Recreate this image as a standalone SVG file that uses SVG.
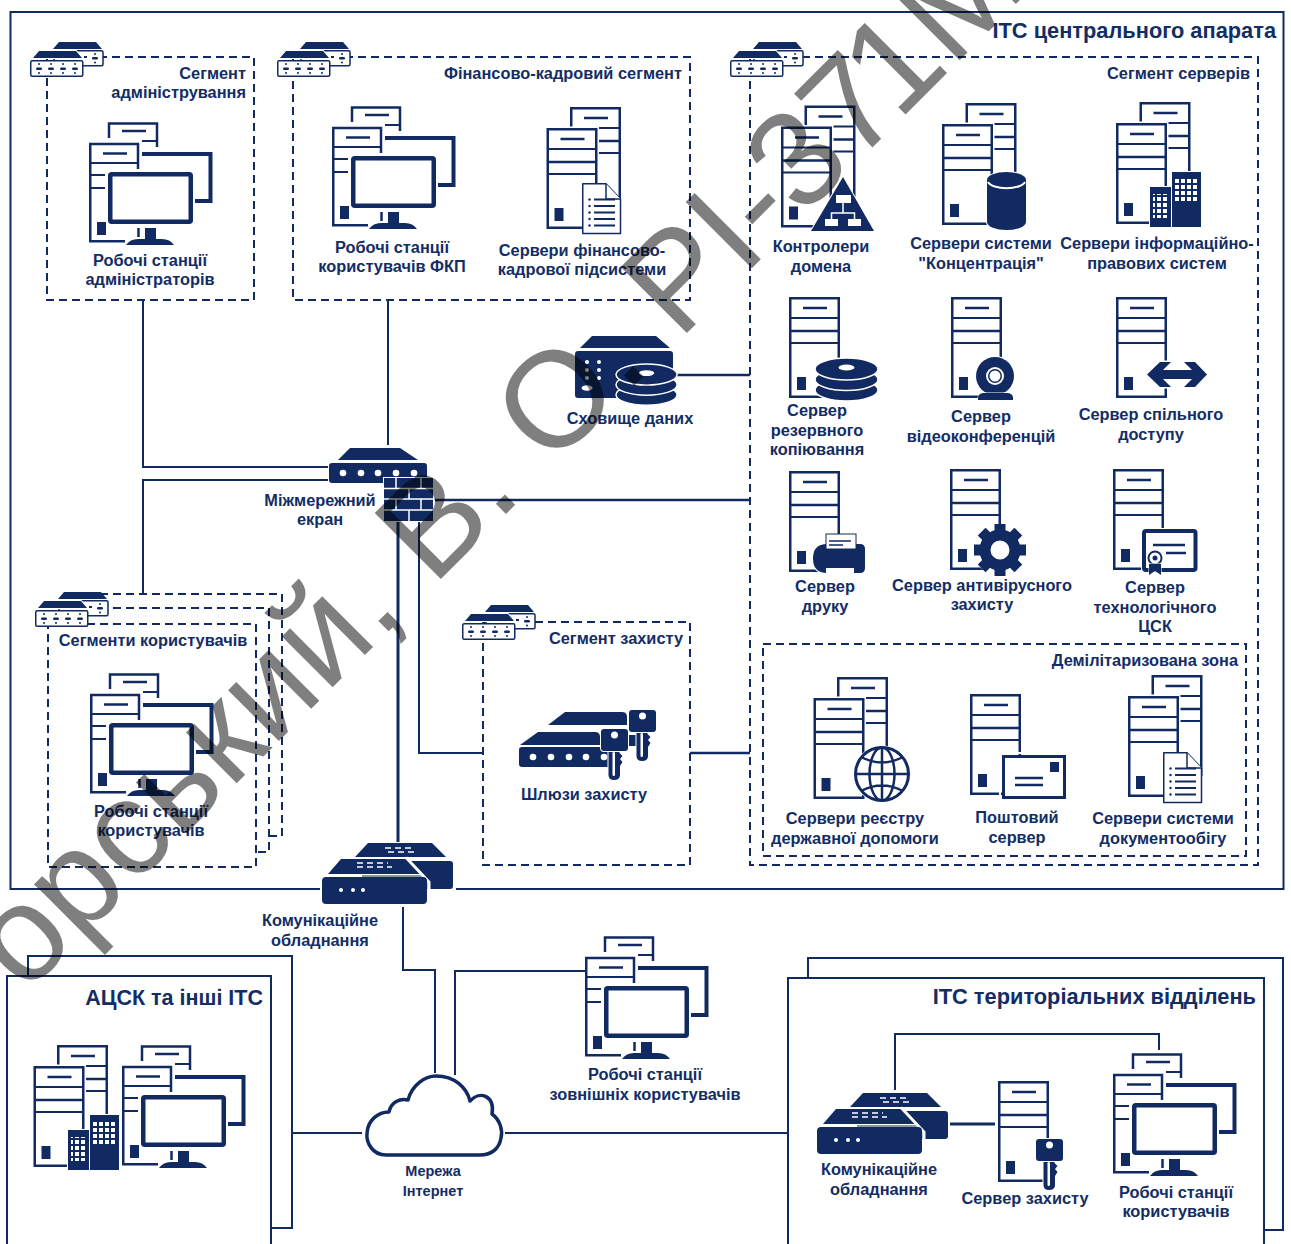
<svg xmlns="http://www.w3.org/2000/svg" xmlns:xlink="http://www.w3.org/1999/xlink" width="1291" height="1244" viewBox="0 0 1291 1244">
<style>
text{font-family:"Liberation Sans",Arial,sans-serif;font-weight:700;font-size:16.35px;fill:#132d65}
.c{text-anchor:middle}.r{text-anchor:end}
.n{fill:#112a61}.w{fill:#fff}
.s{fill:none;stroke:#112a61;stroke-width:2.5}
.ws{fill:none;stroke:#fff;stroke-width:1.5}
.l{fill:none;stroke:#112a61;stroke-width:2}
.d{fill:none;stroke:#112a61;stroke-width:2;stroke-dasharray:8 5}
.h{stroke:#fff;stroke-width:2;paint-order:stroke}
.wm{font-family:"Liberation Sans",Arial,sans-serif;font-weight:400;font-size:136px;fill:#000;fill-opacity:.5}
</style>
<defs>
<pattern id="win" width="6" height="6" patternUnits="userSpaceOnUse"><rect width="6" height="6" fill="#112a61"/><rect x="1" y="1" width="4" height="4" fill="#fff"/></pattern>
<g id="tw">
<rect x="-1.5" y="-1.5" width="54" height="104" fill="#fff"/>
<rect x="1.25" y="1.25" width="48.5" height="98.5" fill="#fff" class="s" style="fill:#fff"/>
<path class="s" d="M14 11H38M1 34H50"/><path class="l" d="M1 21H50M1 46H50"/>
<rect class="n" x="8" y="80" width="9" height="13"/>
</g>
<g id="st"><use href="#tw" x="23.500" y="-21"/><use href="#tw"/></g>
<g id="wk">
<path class="s" d="M19 16V1.5H67V25"/><path class="l" d="M52 19H66"/><path class="s" d="M32 9H56"/>
<path class="s" d="M35 119.25H.25V22H48V47"/><path class="s" d="M13 31.5H37"/><path class="l" d="M0 41H48M0 53H15M0 66H15"/>
<rect class="n" x="7" y="100" width="9" height="13"/><path class="s" d="M48.5 106V115"/>
<path fill="none" stroke="#112a61" stroke-width="4" d="M52 32H120.500V79H105"/>
<rect x="20.25" y="52.25" width="80.5" height="47.5" rx="1.5" fill="#fff" stroke="#112a61" stroke-width="4.5"/>
<rect class="n" x="55" y="106" width="11" height="12"/><path class="n" d="M36 123Q40 117 48 117H72Q80 117 84 123Z"/>
</g>
<g id="sw">
<path class="n" d="M23 7L29 0H66L72 7Z"/>
<rect x="24" y="8.75" width="49" height="15" rx="1.5" fill="#fff" stroke="#112a61" stroke-width="1.5"/>
<g class="n"><rect x="62" y="15" width="6" height="2.4" rx="1.2"/><circle cx="65" cy="12" r="1"/><circle cx="65" cy="20.500" r="1"/><rect x="54" y="14" width="3" height="2"/></g>
<path class="n h" d="M3 16L9 9H46L52 16Z"/>
<rect x=".75" y="18.75" width="52" height="15.500" rx="1.5" fill="#fff" stroke="#112a61" stroke-width="1.5"/>
<g class="n"><rect x="6" y="25.500" width="6" height="2.400" rx="1.200"/><rect x="18" y="25.500" width="6" height="2.400" rx="1.200"/><rect x="30" y="25.500" width="6" height="2.400" rx="1.200"/><rect x="42" y="25.500" width="6" height="2.400" rx="1.200"/>
<circle cx="9" cy="22" r="1"/><circle cx="21" cy="22" r="1"/><circle cx="33" cy="22" r="1"/><circle cx="45" cy="22" r="1"/><circle cx="9" cy="31" r="1"/><circle cx="21" cy="31" r="1"/><circle cx="33" cy="31" r="1"/><circle cx="45" cy="31" r="1"/></g>
</g>
<g id="cm">
<path class="n" d="M33 14L46 0H110L124 14Z"/><rect class="n" x="40" y="18" width="91" height="28" rx="3"/>
<path fill="none" stroke="#fff" stroke-width="1.500" stroke-dasharray="6 4" d="M63 5H93M66 9H96"/>
<path class="n" d="M6 31L19 16H84L99 31Z" stroke="#fff" stroke-width="3" paint-order="stroke"/>
<path fill="none" stroke="#fff" stroke-width="3" d="M84 14.500L107 39V50"/>
<rect class="n" x="0" y="34" width="105" height="27" rx="4" stroke="#fff" stroke-width="1" paint-order="stroke"/>
<path fill="none" stroke="#fff" stroke-width="1.500" stroke-dasharray="6 4" d="M35 20H66M35 24H70"/>
<g class="w"><circle cx="19" cy="47" r="2"/><circle cx="31" cy="47" r="2"/><circle cx="41" cy="47" r="2"/></g>
</g>
<g id="key">
<path class="n" stroke="#fff" stroke-width="2" paint-order="stroke" d="M7.500 20H18.500V24L21.500 27L19 30L21.500 33L19 37V46Q19 51 13 51Q7.500 51 7.500 46Z"/>
<rect x="11.500" y="23" width="2.500" height="24" rx="1.200" fill="#fff"/>
<rect class="n" x="0" y="0" width="27" height="22" rx="3" stroke="#fff" stroke-width="2" paint-order="stroke"/>
<circle cx="13.500" cy="6" r="3.500" fill="#fff"/>
</g>
<g id="doc">
<path d="M.75 .75H24L38.500 16V50.500H.75Z" fill="#fff" stroke="#112a61" stroke-width="1.500" stroke-linejoin="round"/><path d="M24 .75V16H38.500" fill="#fff" stroke="#112a61" stroke-width="1.500"/>
<path class="l" d="M12 16.500H33M12 23H33M12 29.500H33M12 36H33M12 42.500H33"/>
<g class="n"><circle cx="7.500" cy="16.500" r="1.200"/><circle cx="7.500" cy="23" r="1.200"/><circle cx="7.500" cy="29.500" r="1.200"/><circle cx="7.500" cy="36" r="1.200"/><circle cx="7.500" cy="42.500" r="1.200"/></g>
</g>
<g id="dk">
<g class="n" stroke="#fff" stroke-width="1.500"><ellipse cx="31.500" cy="32" rx="31.500" ry="11"/><ellipse cx="31.500" cy="21.500" rx="31.500" ry="11"/><ellipse cx="31.500" cy="11" rx="31.500" ry="11"/></g>
<ellipse cx="31.500" cy="9.500" rx="8" ry="3" fill="#fff"/>
</g>
<g id="bd">
<rect class="n h" x="0" y="15" width="21" height="40"/><rect class="n h" x="22" y="0" width="29" height="55"/>
<rect x="3" y="22" width="15" height="24" fill="url(#win)"/><rect x="25" y="5" width="24" height="24" fill="url(#win)"/>
</g>
</defs>

<g id="frames" fill="none" stroke="#112a61" stroke-width="2">
<rect id="central-frame" x="10.500" y="12" width="1273" height="877"/>
<path d="M28 976V956H292V1228H271"/><path d="M7 1244V976H271V1244"/>
<path d="M808 978V958H1283V1230H1264"/><path d="M788 1244V978H1264V1244"/>
</g>

<g id="connectors">
<path class="l" d="M143 300V467H328M143 594V480H328M388 300V445"/>
<path class="l" style="stroke-width:3" d="M398 521V842"/>
<path class="l" d="M419 521V753H483"/>
<path class="l" style="stroke-width:2.500" d="M435 500H750M677 375H750M690 753H750"/>
<path class="l" d="M403 907V970H435V1073M455 1075V971H585M293 1133H362M505 1133H788"/>
<path class="l" d="M895 1090V1034H1159V1050"/><path class="l" style="stroke-width:3" d="M950 1124H995"/>
</g>

<g id="segments">
<rect class="d" x="47" y="57" width="207" height="243"/>
<rect class="d" x="293" y="57" width="397" height="243"/>
<rect class="d" x="750" y="57" width="508" height="808"/>
<rect class="d" x="763" y="644" width="483" height="212"/>
<path class="d" d="M100 594H282V836H269"/><path class="d" d="M100 608H269V852H256"/>
<rect class="d" x="48" y="624" width="208" height="243"/>
<rect class="d" x="483" y="622" width="207" height="243"/>
</g>
<g id="segment-switches">
<use href="#sw" x="30" y="42"/><use href="#sw" x="277" y="42"/><use href="#sw" x="730" y="42"/><use href="#sw" x="35" y="592"/><use href="#sw" x="462" y="605"/>
</g>

<g id="title"><text class="r" x="1276" y="38" style="font-size:21.8px">ІТС центрального апарата</text></g>

<g id="n-admin"><text class="r" x="246" y="79">Сегмент</text><text class="r" x="246" y="98">адміністрування</text>
<use href="#wk" x="90" y="122"/><text class="c" x="150" y="266">Робочі станції</text><text class="c" x="150" y="285">адміністраторів</text></g>

<g id="n-fkp"><text class="r" x="682" y="79">Фінансово-кадровий сегмент</text>
<use href="#wk" x="333" y="106"/><text class="c" x="392" y="253">Робочі станції</text><text class="c" x="392" y="272">користувачів ФКП</text></g>

<g id="n-fin"><use href="#st" x="546.500" y="128"/><use href="#doc" x="582" y="183"/><text class="c" x="582" y="256">Сервери фінансово-</text><text class="c" x="582" y="275">кадрової підсистеми</text></g>

<g id="n-seg-srv"><text class="r" x="1250" y="79">Сегмент серверів</text></g>

<g id="n-dc"><use href="#st" x="781" y="126.500"/>
<path class="n" stroke="#fff" stroke-width="2" stroke-linejoin="round" paint-order="stroke" d="M843 177L874 231H811Z"/>
<g class="w"><rect x="836" y="195" width="15" height="8"/><rect x="825" y="219" width="13" height="7"/><rect x="848" y="219" width="13" height="7"/></g>
<path class="ws" d="M843 203V213H831.500V219M843 213H854.500V219"/>
<text class="c" x="821" y="252">Контролери</text><text class="c" x="821" y="272">домена</text></g>

<g id="n-conc"><use href="#st" x="942" y="124"/>
<path class="n" stroke="#fff" stroke-width="2" paint-order="stroke" d="M987 180A19.500 8 0 0 1 1026 180V222A19.500 8 0 0 1 987 222Z"/>
<path fill="none" stroke="#fff" stroke-width="2" d="M988 182A19 8 0 0 0 1025 182"/>
<text class="c" x="981" y="249">Сервери системи</text><text class="c" x="981" y="269">"Концентрація"</text></g>

<g id="n-law"><use href="#st" x="1116" y="123"/><use href="#bd" x="1150" y="172"/>
<text class="c" x="1157" y="249">Сервери інформаційно-</text><text class="c" x="1157" y="269">правових систем</text></g>

<g id="n-storage">
<path class="n" d="M580 348L592 336H656L670 348Z"/><rect class="n" x="575" y="351" width="98" height="47" rx="3"/>
<g class="w"><circle cx="587" cy="362" r="2"/><circle cx="599" cy="362" r="2"/><circle cx="587" cy="370" r="2"/><circle cx="599" cy="370" r="2"/><circle cx="587" cy="378" r="2"/><circle cx="599" cy="378" r="2"/><ellipse cx="587" cy="388" rx="5.500" ry="2.800"/></g>
<use href="#dk" transform="translate(616 364) scale(.97 .96)"/>
<text class="c" x="630" y="424">Сховище даних</text></g>

<g id="n-backup"><use href="#tw" x="789" y="297"/><use href="#dk" x="815" y="358"/>
<text class="c" x="817" y="416">Сервер</text><text class="c" x="817" y="436">резервного</text><text class="c" x="817" y="455">копіювання</text></g>

<g id="n-video"><use href="#tw" x="951" y="297"/>
<circle class="n" cx="995" cy="376" r="19" stroke="#fff" stroke-width="2" paint-order="stroke"/><circle cx="995" cy="376" r="9" fill="#fff"/><circle class="n" cx="995" cy="376" r="7"/><circle cx="995" cy="376" r="5.500" fill="#fff"/>
<path class="n" d="M978 400V397Q979 393 984 393H1007Q1012 393 1013 397V400Z" stroke="#fff" stroke-width="1" paint-order="stroke"/>
<text class="c" x="981" y="422">Сервер</text><text class="c" x="981" y="442">відеоконференцій</text></g>

<g id="n-share"><use href="#tw" x="1116" y="297"/>
<path class="n" stroke="#fff" stroke-width="3" paint-order="stroke" d="M1147 374.500L1160 362H1171L1163 370H1192L1184 362H1195L1207 374.500L1195 387H1184L1192 379H1163L1171 387H1160Z"/>
<text class="c" x="1151" y="420">Сервер спільного</text><text class="c" x="1151" y="440">доступу</text></g>

<g id="n-print"><use href="#tw" x="789" y="471"/>
<path class="n" stroke="#fff" stroke-width="2" paint-order="stroke" d="M827 544H860Q865 544 865 549V568Q865 573 860 573H827Q813 573 813 558.500Q813 544 827 544Z"/>
<rect x="826" y="534" width="30" height="15" fill="#fff" stroke="#112a61" stroke-width="1"/><path class="l" style="stroke-width:1.500" d="M829 541H851M829 545H843"/>
<rect x="826" y="568" width="28" height="6" fill="#fff"/>
<text class="c" x="825" y="592">Сервер</text><text class="c" x="825" y="612">друку</text></g>

<g id="n-av"><use href="#tw" x="950" y="469"/>
<g transform="translate(1000 550)"><circle r="26" fill="#fff"/><circle r="15" fill="none" stroke="#112a61" stroke-width="11"/>
<g class="n"><rect id="tooth" x="-5.500" y="-26" width="11" height="9"/><use href="#tooth" transform="rotate(45)"/><use href="#tooth" transform="rotate(90)"/><use href="#tooth" transform="rotate(135)"/><use href="#tooth" transform="rotate(180)"/><use href="#tooth" transform="rotate(225)"/><use href="#tooth" transform="rotate(270)"/><use href="#tooth" transform="rotate(315)"/></g></g>
<text class="c" x="982" y="591">Сервер антивірусного</text><text class="c" x="982" y="610">захисту</text></g>

<g id="n-tech"><use href="#tw" x="1113" y="469"/>
<rect x="1141" y="528" width="57" height="45" fill="#fff"/><rect x="1144" y="531" width="51.500" height="39" rx="2" fill="#fff" stroke="#112a61" stroke-width="4"/>
<path class="l" style="stroke-width:2.500" d="M1153 545H1185M1166 553H1186"/>
<circle cx="1155" cy="558" r="6.500" fill="#fff" stroke="#112a61" stroke-width="2"/><circle class="n" cx="1155" cy="558" r="2.500"/>
<path class="n" stroke="#fff" d="M1149 564H1161V575L1155 571L1149 575Z" paint-order="stroke"/>
<text class="c" x="1155" y="593">Сервер</text><text class="c" x="1155" y="613">технологічного</text><text class="c" x="1155" y="632">ЦСК</text></g>

<g id="n-dmz"><text class="r" x="1238" y="666">Демілітаризована зона</text></g>

<g id="n-reg"><use href="#st" x="813.500" y="698"/>
<circle cx="882" cy="774" r="28.500" fill="#fff"/><g fill="none" stroke="#112a61"><circle cx="882" cy="774" r="26.500" stroke-width="3"/><ellipse cx="882" cy="774" rx="12.500" ry="26.500" stroke-width="2.500"/><path stroke-width="2.500" d="M855 774H909M882 748V800M861 757Q882 768 903 757M861 791Q882 780 903 791"/></g>
<text class="c" x="855" y="824">Сервери реєстру</text><text class="c" x="855" y="844">державної допомоги</text></g>

<g id="n-mail"><use href="#tw" x="970" y="694"/>
<rect x="1003.500" y="756.500" width="61" height="41" fill="#fff" stroke="#112a61" stroke-width="3" /><rect x="1000" y="753" width="68" height="48" fill="none" stroke="#fff" stroke-width="2"/>
<rect class="n" x="1050" y="762" width="9" height="10"/><path class="l" style="stroke-width:2.500" d="M1015 778H1043M1015 785H1043"/>
<text class="c" x="1017" y="823">Поштовий</text><text class="c" x="1017" y="843">сервер</text></g>

<g id="n-docs"><use href="#st" x="1128" y="696"/><use href="#doc" x="1163" y="752"/>
<text class="c" x="1163" y="824">Сервери системи</text><text class="c" x="1163" y="844">документообігу</text></g>

<g id="n-users"><text class="c" x="153" y="646">Сегменти користувачів</text>
<use href="#wk" x="91" y="673"/><text class="c" x="151" y="817">Робочі станції</text><text class="c" x="151" y="836">користувачів</text></g>

<g id="n-gw"><text class="r" x="683" y="644">Сегмент захисту</text>
<path class="n" d="M548 725L565 712H622Q627 712 627 717V725Z"/><rect class="n" x="628" y="735" width="8" height="11"/>
<path class="n" d="M520 745L538 732H595Q600 732 600 737V745Z"/><rect class="n" x="519" y="747" width="94" height="20" rx="3"/>
<g class="w"><circle cx="533" cy="757" r="3.300"/><circle cx="551" cy="757" r="3.300"/><circle cx="569" cy="757" r="3.300"/><circle cx="586" cy="757" r="3.300"/><circle cx="604" cy="757" r="3.300"/></g>
<use href="#key" x="629" y="710"/><use href="#key" x="601" y="729"/>
<text class="c" x="584" y="800">Шлюзи захисту</text></g>

<g id="n-firewall">
<path class="n" d="M338 460L350 448H400L418 460Z"/><rect class="n" x="329" y="463" width="98" height="20" rx="3"/>
<g class="w"><circle cx="343" cy="473" r="3.300"/><circle cx="361" cy="473" r="3.300"/><circle cx="378" cy="473" r="3.300"/><circle cx="396" cy="473" r="3.300"/><circle cx="414" cy="473" r="3.300"/></g>
<rect class="n" x="384" y="478" width="49" height="43" stroke="#fff" stroke-width="2" paint-order="stroke"/>
<path class="ws" d="M384 488.500H433M384 499H433M384 510H433M396 478V488.500M421 478V488.500M409 488.500V499M396 499V510M421 499V510M409 510V521"/>
<text class="c" x="320" y="506">Міжмережний</text><text class="c" x="320" y="525">екран</text></g>

<g id="n-comm">
<path d="M320 889H456" stroke="#fff" stroke-width="5" fill="none"/><use href="#cm" x="322" y="843"/>
<text class="c" x="320" y="926">Комунікаційне</text><text class="c" x="320" y="946">обладнання</text></g>

<g id="n-acsk"><text class="r" x="263" y="1005" style="font-size:21.5px">АЦСК та інші ІТС</text>
<use href="#st" x="33.500" y="1066"/><use href="#bd" x="68" y="1115"/><use href="#wk" x="123" y="1045"/></g>

<g id="n-internet">
<path fill="#fff" stroke="#112a61" stroke-width="3.500" stroke-linejoin="round" d="M386 1155C372 1155 366 1142 367 1133C368 1120 378 1112 389 1112C391 1102 400 1098 408 1100C412 1085 425 1076 436 1076C455 1076 467 1088 470 1101C480 1090 495 1096 492 1114C500 1120 503 1130 501 1138C499 1150 490 1155 480 1155Z"/>
<text class="c" x="433" y="1176" style="font-size:14.500px">Мережа</text><text class="c" x="433" y="1196" style="font-size:14.500px">Інтернет</text></g>

<g id="n-ext"><use href="#wk" x="586" y="936"/><text class="c" x="645" y="1080">Робочі станції</text><text class="c" x="645" y="1100">зовнішніх користувачів</text></g>

<g id="n-terr"><text class="r" x="1256" y="1004" style="font-size:21.8px">ІТС територіальних відділень</text>
<use href="#cm" x="817" y="1093"/><text class="c" x="879" y="1175">Комунікаційне</text><text class="c" x="879" y="1195">обладнання</text>
<use href="#tw" x="998" y="1081"/><use href="#key" x="1036" y="1139"/><text class="c" x="1025" y="1204">Сервер захисту</text>
<use href="#wk" x="1114" y="1053"/><text class="c" x="1176" y="1198">Робочі станції</text><text class="c" x="1176" y="1217">користувачів</text></g>

<text id="watermark" class="wm" transform="translate(25 995) rotate(-45)">орський, В. О. РІ-37<tspan dx="-15">1М</tspan></text>
</svg>
